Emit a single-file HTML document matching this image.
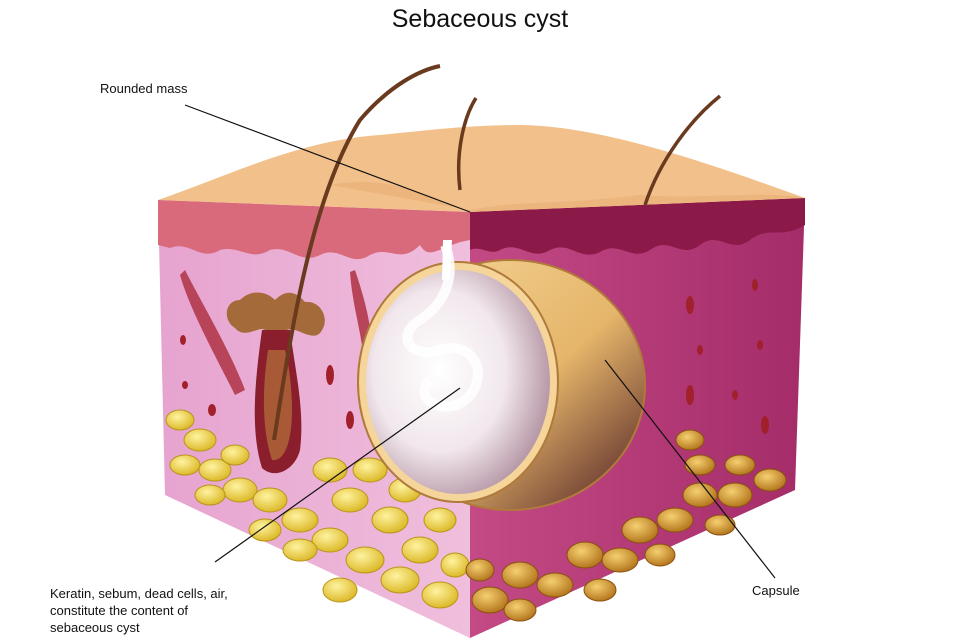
<!DOCTYPE html>
<html><head><meta charset="utf-8"><style>
html,body{margin:0;padding:0;background:#fff;}
svg{display:block;font-family:"Liberation Sans",sans-serif;}
</style></head><body>
<svg width="960" height="640" viewBox="0 0 960 640" xmlns="http://www.w3.org/2000/svg">
<defs>
<radialGradient id="cyst" cx="0.4" cy="0.45" r="0.6">
<stop offset="0" stop-color="#fff"/><stop offset="0.6" stop-color="#f1e7ec"/><stop offset="1" stop-color="#b89aa8"/>
</radialGradient>
<linearGradient id="cap" x1="0" y1="0" x2="1" y2="1">
<stop offset="0" stop-color="#f6d79a"/><stop offset="0.55" stop-color="#e5b56a"/><stop offset="1" stop-color="#4a1a22"/>
</linearGradient>
<linearGradient id="lf" x1="0" y1="0" x2="1" y2="0">
<stop offset="0" stop-color="#e6a3cf"/><stop offset="1" stop-color="#f0bfdd"/>
</linearGradient>
<linearGradient id="rf" x1="0" y1="0" x2="1" y2="0">
<stop offset="0" stop-color="#c44a86"/><stop offset="1" stop-color="#a42c68"/>
</linearGradient>
<radialGradient id="fat" cx="0.4" cy="0.35" r="0.7">
<stop offset="0" stop-color="#fff3a0"/><stop offset="1" stop-color="#d9b520"/>
</radialGradient>
<radialGradient id="fat2" cx="0.4" cy="0.35" r="0.7">
<stop offset="0" stop-color="#f5d070"/><stop offset="1" stop-color="#b07018"/>
</radialGradient>
</defs>
<text x="480" y="27" font-size="25" text-anchor="middle" fill="#111">Sebaceous cyst</text>
<!-- left face -->
<path d="M158 200 L470 212 L470 638 L165 495 Z" fill="url(#lf)"/>
<!-- right face -->
<path d="M470 212 L805 198 L795 490 L470 638 Z" fill="url(#rf)"/>
<!-- epidermis bands -->
<path d="M158 200 L470 212 L470 240 C440 245 430 262 420 245 C400 265 390 245 370 255 C350 268 340 245 320 255 C300 265 290 245 270 250 C250 262 240 245 220 250 C200 262 190 240 170 248 L158 245 Z" fill="#d86a7c"/>
<path d="M470 212 L805 198 L805 225 C780 240 770 225 750 240 C730 255 720 230 700 245 C680 260 670 235 650 250 C630 262 620 240 600 252 C580 262 570 240 550 250 C530 262 520 240 500 250 C490 256 480 245 470 250 Z" fill="#8c1a48"/>
<!-- top face -->
<path d="M158 200 C230 175 300 140 380 135 C430 130 470 125 520 125 C600 126 700 160 805 198 L470 212 Z" fill="#f2c08a"/>
<path d="M330 185 C380 175 420 190 470 212 L805 198 C760 190 700 200 640 195 C560 205 520 200 470 210" fill="#e8ad76" opacity="0.6"/>
<!-- fat left -->
<g fill="url(#fat)" stroke="#b8941a" stroke-width="1">
<ellipse cx="180" cy="420" rx="14" ry="10"/><ellipse cx="200" cy="440" rx="16" ry="11"/><ellipse cx="185" cy="465" rx="15" ry="10"/>
<ellipse cx="215" cy="470" rx="16" ry="11"/><ellipse cx="240" cy="490" rx="17" ry="12"/><ellipse cx="210" cy="495" rx="15" ry="10"/>
<ellipse cx="270" cy="500" rx="17" ry="12"/><ellipse cx="300" cy="520" rx="18" ry="12"/><ellipse cx="330" cy="470" rx="17" ry="12"/>
<ellipse cx="350" cy="500" rx="18" ry="12"/><ellipse cx="330" cy="540" rx="18" ry="12"/><ellipse cx="370" cy="470" rx="17" ry="12"/>
<ellipse cx="390" cy="520" rx="18" ry="13"/><ellipse cx="365" cy="560" rx="19" ry="13"/><ellipse cx="400" cy="580" rx="19" ry="13"/>
<ellipse cx="420" cy="550" rx="18" ry="13"/><ellipse cx="440" cy="595" rx="18" ry="13"/><ellipse cx="300" cy="550" rx="17" ry="11"/>
<ellipse cx="405" cy="490" rx="16" ry="12"/><ellipse cx="440" cy="520" rx="16" ry="12"/><ellipse cx="455" cy="565" rx="14" ry="12"/>
<ellipse cx="265" cy="530" rx="16" ry="11"/><ellipse cx="340" cy="590" rx="17" ry="12"/><ellipse cx="235" cy="455" rx="14" ry="10"/>
</g>
<!-- fat right -->
<g fill="url(#fat2)" stroke="#8a5010" stroke-width="1">
<ellipse cx="490" cy="600" rx="18" ry="13"/><ellipse cx="520" cy="575" rx="18" ry="13"/><ellipse cx="555" cy="585" rx="18" ry="12"/>
<ellipse cx="585" cy="555" rx="18" ry="13"/><ellipse cx="620" cy="560" rx="18" ry="12"/><ellipse cx="640" cy="530" rx="18" ry="13"/>
<ellipse cx="675" cy="520" rx="18" ry="12"/><ellipse cx="700" cy="495" rx="17" ry="12"/><ellipse cx="735" cy="495" rx="17" ry="12"/>
<ellipse cx="770" cy="480" rx="16" ry="11"/><ellipse cx="740" cy="465" rx="15" ry="10"/><ellipse cx="700" cy="465" rx="15" ry="10"/>
<ellipse cx="690" cy="440" rx="14" ry="10"/><ellipse cx="520" cy="610" rx="16" ry="11"/><ellipse cx="480" cy="570" rx="14" ry="11"/>
<ellipse cx="600" cy="590" rx="16" ry="11"/><ellipse cx="660" cy="555" rx="15" ry="11"/><ellipse cx="720" cy="525" rx="15" ry="10"/>
</g>
<!-- muscles and follicle -->
<path d="M185 270 C200 300 230 350 245 390 L235 395 C215 355 190 310 180 275 Z" fill="#b8445a"/>
<path d="M355 270 C365 300 370 320 372 345 L362 345 C358 320 352 300 350 272 Z" fill="#b8445a"/>
<path d="M240 300 C225 300 222 320 235 328 C245 340 260 325 265 330 L262 360 L290 360 L287 330 C295 325 315 345 322 330 C330 318 320 300 305 302 C295 290 285 290 275 300 C265 290 250 290 240 300 Z" fill="#a56a3a"/>
<path d="M262 330 C255 380 250 430 262 468 C275 480 295 470 300 450 C305 410 295 370 290 330 Z" fill="#8a1e2c"/>
<path d="M268 350 C262 390 262 430 272 460 C285 462 292 440 292 410 C292 385 288 360 285 350 Z" fill="#a85a36"/>
<path d="M274 440 C290 340 310 200 360 120 C390 85 420 70 440 66" stroke="#6a3a1e" stroke-width="4" fill="none"/>
<path d="M460 190 C455 150 465 115 476 98" stroke="#6a3a1e" stroke-width="3.5" fill="none"/>
<path d="M645 205 C660 160 690 120 720 96" stroke="#6a3a1e" stroke-width="3.5" fill="none"/>
<g fill="#a0202c">
<ellipse cx="183" cy="340" rx="3" ry="5"/><ellipse cx="185" cy="385" rx="3" ry="4"/><ellipse cx="212" cy="410" rx="4" ry="6"/>
<ellipse cx="330" cy="375" rx="4" ry="10"/><ellipse cx="350" cy="420" rx="4" ry="9"/><ellipse cx="690" cy="305" rx="4" ry="9"/>
<ellipse cx="755" cy="285" rx="3" ry="6"/><ellipse cx="700" cy="350" rx="3" ry="5"/><ellipse cx="760" cy="345" rx="3" ry="5"/>
<ellipse cx="690" cy="395" rx="4" ry="10"/><ellipse cx="765" cy="425" rx="4" ry="9"/><ellipse cx="735" cy="395" rx="3" ry="5"/>
</g>
<!-- cyst -->
<ellipse cx="510" cy="385" rx="135" ry="125" fill="url(#cap)" stroke="#b07a3a" stroke-width="2"/>
<ellipse cx="458" cy="382" rx="100" ry="120" fill="#f5d59a" stroke="#b07a3a" stroke-width="2"/>
<ellipse cx="458" cy="382" rx="92" ry="112" fill="url(#cyst)"/>
<path d="M445 245 C455 270 450 300 420 320 C395 335 410 360 440 350 C470 340 490 370 470 395 C450 420 410 400 430 380" stroke="#fff" stroke-width="10" fill="none" opacity="0.85"/>
<path d="M443 240 L452 240 L450 280 L442 280 Z" fill="#fff"/>
<!-- leader lines -->
<g stroke="#111" stroke-width="1.2" fill="none">
<line x1="185" y1="105" x2="470" y2="212"/>
<line x1="605" y1="360" x2="775" y2="578"/>
<line x1="460" y1="388" x2="215" y2="562"/>
</g>
<g font-size="13" fill="#111">
<text x="100" y="93">Rounded mass</text>
<text x="752" y="595">Capsule</text>
<text x="50" y="598">Keratin, sebum, dead cells, air,</text>
<text x="50" y="615">constitute the content of</text>
<text x="50" y="632">sebaceous cyst</text>
</g>
</svg>
</body></html>
